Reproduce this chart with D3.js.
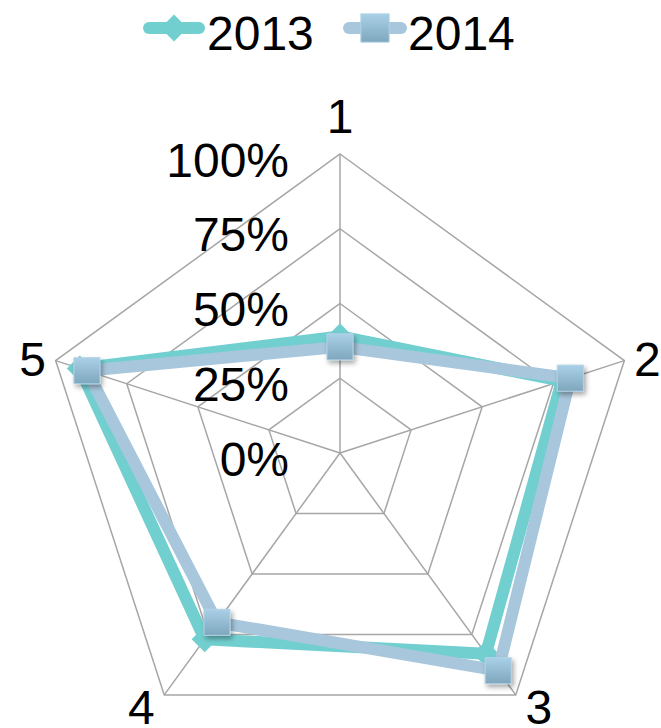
<!DOCTYPE html>
<html>
<head>
<meta charset="utf-8">
<script src="https://cdn.jsdelivr.net/npm/d3@7/dist/d3.min.js"></script>
<style>
  html, body { margin: 0; padding: 0; background: #fff; }
  svg { display: block; font-family: "Liberation Sans", Arial, sans-serif; }
</style>
</head>
<body>
<svg id="chart" width="661" height="728"></svg>
<script>
// Radar axes and series values (share of maximum)
const categories = ["1", "2", "3", "4", "5"];
const seriesNames = ["2013", "2014"];
const values2013 = [0.39, 0.78, 0.83, 0.77, 0.915];
const values2014 = [0.355, 0.81, 0.90, 0.70, 0.89];
const tickValues = [0, 0.25, 0.5, 0.75, 1];
const tickLabels = ["0%", "25%", "50%", "75%", "100%"];

const colors = { "2013": "#72cfd0", "2014": "#a8c7dc" };

const svg = d3.select("#chart");
const cx = 340, cy = 453, R = 299;

const r = d3.scaleLinear().domain([0, 1]).range([0, R]);
const angle = d3.scaleLinear().domain([0, categories.length]).range([0, 2 * Math.PI]);

const pt = (i, v) => {
  const a = angle(i);
  return [cx + r(v) * Math.sin(a), cy - r(v) * Math.cos(a)];
};

const defs = svg.append("defs");
const grad = defs.append("linearGradient").attr("id", "sqGrad")
  .attr("x1", 0).attr("y1", 0).attr("x2", 0).attr("y2", 1);
grad.append("stop").attr("offset", "0%").attr("stop-color", "#a9d0e6");
grad.append("stop").attr("offset", "100%").attr("stop-color", "#7ea6bd");
const shadow = defs.append("filter").attr("id", "shadow")
  .attr("x", "-50%").attr("y", "-50%").attr("width", "200%").attr("height", "200%");
shadow.append("feDropShadow").attr("dx", 2).attr("dy", 3).attr("stdDeviation", 2.5)
  .attr("flood-color", "#000").attr("flood-opacity", 0.35);

// Grid rings
const grid = svg.append("g");
tickValues.filter(t => t > 0).forEach(t => {
  grid.append("polygon")
    .attr("points", categories.map((c, i) => pt(i, t).join(",")).join(" "))
    .attr("fill", "none").attr("stroke", "#a6a6a6").attr("stroke-width", 1.5);
});
// Spokes
categories.forEach((c, i) => {
  const [x, y] = pt(i, 1);
  grid.append("line").attr("x1", cx).attr("y1", cy).attr("x2", x).attr("y2", y)
    .attr("stroke", "#a6a6a6").attr("stroke-width", 1.5);
});

// Value axis labels
svg.append("g").selectAll("text").data(tickValues).join("text")
  .attr("x", 289)
  .attr("y", d => cy - r(d) + 6)
  .attr("text-anchor", "end")
  .attr("dominant-baseline", "central")
  .attr("font-size", 48)
  .attr("fill", "#000")
  .text((d, i) => tickLabels[i]);

// Category labels outside each vertex
svg.append("g").selectAll("text").data(categories).join("text")
  .attr("x", (d, i) => {
    const [x] = pt(i, 1);
    const s = Math.sin(angle(i));
    return x + (Math.abs(s) < 0.01 ? 0 : Math.sign(s) * 23);
  })
  .attr("y", (d, i) => {
    const [, y] = pt(i, 1);
    const c = Math.cos(angle(i));
    return y + (c > 0.9 ? -38 : c < 0 ? 13 : -1);
  })
  .attr("text-anchor", "middle")
  .attr("dominant-baseline", "central")
  .attr("font-size", 48)
  .attr("fill", "#000")
  .text(d => d);

// Series lines and markers
const line = d3.lineRadial()
  .angle((d, i) => angle(i))
  .radius(d => r(d))
  .curve(d3.curveLinearClosed);

const series = [
  { name: "2013", values: values2013 },
  { name: "2014", values: values2014 }
];

const diamond = d3.symbol(d3.symbolSquare, 340);
const square = d3.symbol(d3.symbolSquare, 680);

series.forEach(s => {
  const g = svg.append("g");
  g.append("path")
    .attr("transform", `translate(${cx},${cy})`)
    .attr("d", line(s.values))
    .attr("fill", "none")
    .attr("stroke", colors[s.name])
    .attr("stroke-width", 12)
    .attr("stroke-linejoin", "round");
  s.values.forEach((v, i) => {
    const [x, y] = pt(i, v);
    if (s.name === "2013") {
      g.append("path").attr("d", diamond())
        .attr("transform", `translate(${x},${y}) rotate(45)`)
        .attr("fill", colors["2013"]);
    } else {
      g.append("path").attr("d", square())
        .attr("transform", `translate(${x},${y})`)
        .attr("fill", "url(#sqGrad)")
        .attr("stroke", "#b3d3e6").attr("stroke-width", 1)
        .attr("filter", "url(#shadow)");
    }
  });
});

// Legend
const legend = svg.append("g");
const legendItems = [
  { name: "2013", x0: 143, x1: 205, tx: 207 },
  { name: "2014", x0: 343, x1: 407, tx: 408 }
];
legendItems.forEach(it => {
  const ly = 28;
  legend.append("line").attr("x1", it.x0 + 6).attr("x2", it.x1 - 6)
    .attr("y1", ly).attr("y2", ly)
    .attr("stroke", colors[it.name]).attr("stroke-width", 12)
    .attr("stroke-linecap", "round");
  const mx = (it.x0 + it.x1) / 2;
  if (it.name === "2013") {
    legend.append("path").attr("d", d3.symbol(d3.symbolSquare, 360)())
      .attr("transform", `translate(${mx},${ly}) rotate(45)`)
      .attr("fill", colors["2013"]);
  } else {
    legend.append("path").attr("d", d3.symbol(d3.symbolSquare, 800)())
      .attr("transform", `translate(${mx},${ly})`)
      .attr("fill", "url(#sqGrad)")
      .attr("stroke", "#b3d3e6").attr("stroke-width", 1);
  }
  legend.append("text").attr("x", it.tx).attr("y", 50)
    .attr("font-size", 48).attr("fill", "#000").text(it.name);
});
</script>
</body>
</html>
